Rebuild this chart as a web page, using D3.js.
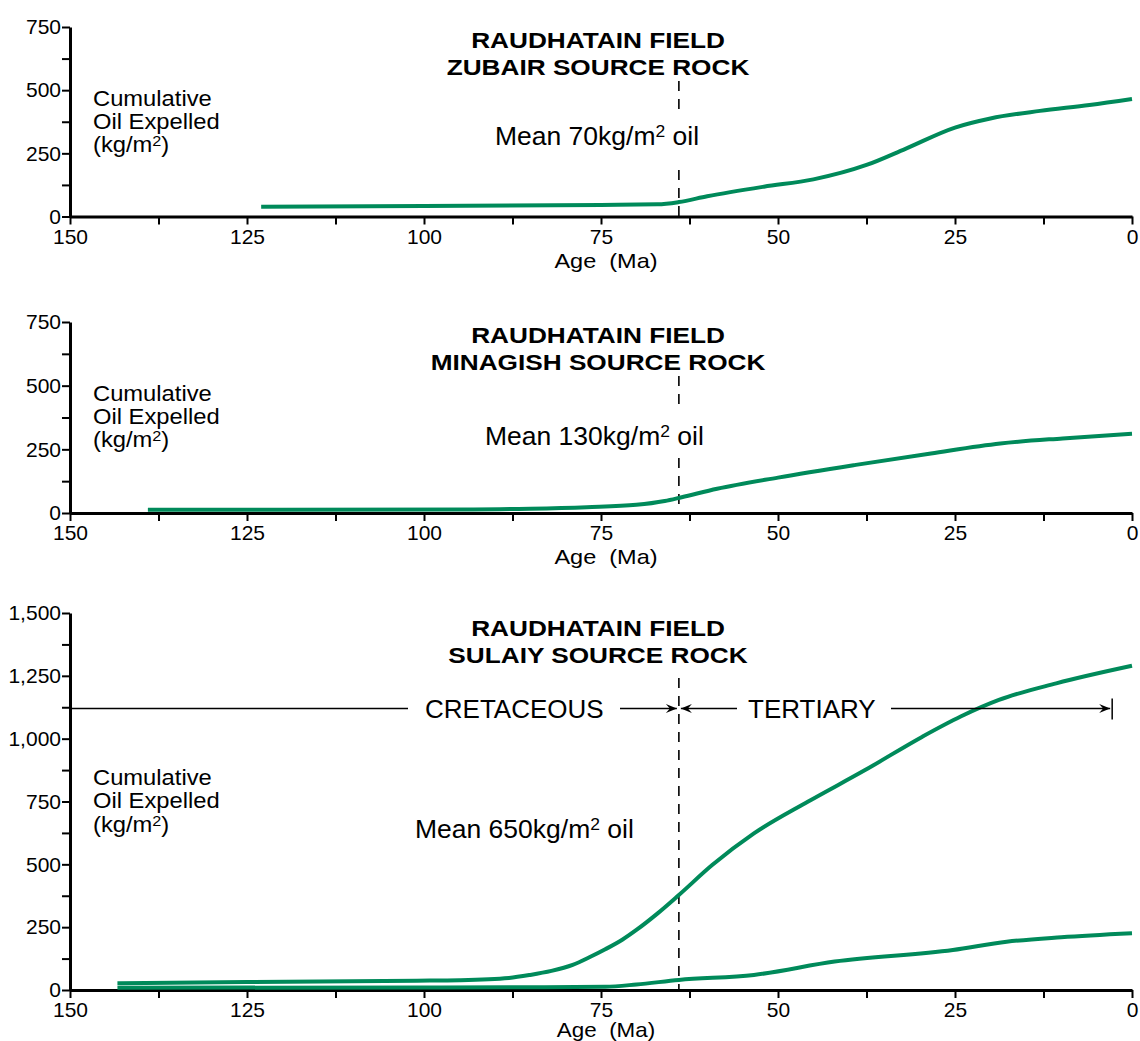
<!DOCTYPE html>
<html><head><meta charset="utf-8">
<script src="https://cdn.jsdelivr.net/npm/d3@7"></script>
<style>
body{margin:0;background:#fff}
svg{display:block}
text{font-family:"Liberation Sans",Arial,Helvetica,sans-serif;fill:#000}
</style>
</head><body>
<svg id="chart" width="1140" height="1041"></svg>
<script>
// ---------- data ----------
const ageMajorTicks = [150, 125, 100, 75, 50, 25, 0];
const ageMinorTicks = [137.5, 112.5, 87.5, 62.5, 37.5, 12.5];
const oilTicks750 = [0, 250, 500, 750];
const oilMinor750 = [125, 375, 625];
const oilTicks1500 = [0, 250, 500, 750, 1000, 1250, 1500];
const oilMinor1500 = [125, 375, 625, 875, 1125, 1375];

const zubairAge = [123, 100, 75, 67, 64, 60, 52, 45, 37.5, 32, 25, 20, 13, 6, 0];
const zubairOil = [39, 42, 46, 48, 57, 80, 118, 147, 204, 268, 352, 388, 418, 441, 465];

const minagishAge = [139, 120, 93, 85, 77, 70, 66, 63.6, 58.6, 50, 39, 28.4, 18.6, 9.8, 0];
const minagishOil = [13, 13, 14, 17, 23, 32, 47, 62, 95, 139, 189, 234, 273, 293, 311];

const sulaiyUpperAge = [143.3, 125, 101, 95, 88, 85, 82, 79, 76.5, 74.4, 72, 70, 67, 64, 59.3, 53.4, 45.8, 37.7, 29.6, 24.2, 18.8, 10.7, 0];
const sulaiyUpperOil = [27, 32, 37, 39, 48, 60, 76, 100, 132, 162, 200, 239, 305, 378, 497, 623, 749, 875, 1008, 1088, 1154, 1220, 1290];

const sulaiyLowerAge = [143.3, 100, 85, 74.4, 70, 64, 53.4, 42, 25.3, 17.7, 10, 0];
const sulaiyLowerOil = [9, 10, 11, 13, 22, 40, 60, 113, 159, 192, 210, 226];

const boundaryAge = 64;      // Cretaceous / Tertiary boundary
const tertiaryEndAge = 2.8;
const periodArrowOil = 1120;

const titles = [["RAUDHATAIN FIELD", "ZUBAIR SOURCE ROCK"],
                ["RAUDHATAIN FIELD", "MINAGISH SOURCE ROCK"],
                ["RAUDHATAIN FIELD", "SULAIY SOURCE ROCK"]];
const meanValues = ["70", "130", "650"];

// ---------- layout ----------
const green = "#008a5a";
const svg = d3.select("#chart");
const x = d3.scaleLinear().domain([150, 0]).range([70, 1132]);

const panels = [
  {y0: 216.5, yTop: 27,  max: 750,  ticks: oilTicks750,  minor: oilMinor750,
   series: [[zubairAge, zubairOil]], titleY: 47.7, meanX: 495, meanY: 145,
   labelY: 105.7, ageY: 268, ageFs: 21, pad: 5, dash: [[81, 112], [170, 216.5]]},
  {y0: 513, yTop: 322, max: 750, ticks: oilTicks750, minor: oilMinor750,
   series: [[minagishAge, minagishOil]], titleY: 342.7, meanX: 485, meanY: 445,
   labelY: 400.7, ageY: 564, ageFs: 21, pad: 4, dash: [[376, 412], [458, 513]]},
  {y0: 990, yTop: 613, max: 1500, ticks: oilTicks1500, minor: oilMinor1500,
   series: [[sulaiyUpperAge, sulaiyUpperOil], [sulaiyLowerAge, sulaiyLowerOil]],
   titleY: 636, meanX: 415, meanY: 838, labelY: 785, ageY: 1036.5, ageFs: 20, pad: 4,
   dash: [[678, 990]], arrows: true}
];

function stext(g, px, py, str, size, weight, sx, anchor) {
  return g.append("text")
    .attr("transform", `translate(${px},${py}) scale(${sx},1)`)
    .attr("text-anchor", anchor || "start")
    .style("font-size", size + "px")
    .style("font-weight", weight || "normal")
    .text(str);
}

panels.forEach((p, i) => {
  const g = svg.append("g");
  const y = d3.scaleLinear().domain([0, p.max]).range([p.y0, p.yTop]);
  const fmt = p.max > 1000 ? d3.format(",") : d3.format("d");

  // Y axis
  const yAxis = d3.axisLeft(y)
    .tickValues(p.ticks.concat(p.minor).sort((a, b) => a - b))
    .tickFormat(d => p.ticks.includes(d) ? fmt(d) : "")
    .tickSize(8).tickSizeOuter(0).tickPadding(1);
  const ya = g.append("g").attr("transform", `translate(${x(150)},0)`).call(yAxis);
  ya.select(".domain").attr("stroke-width", 3);
  ya.selectAll(".tick line").attr("stroke-width", 2);
  ya.selectAll(".tick text").style("font-size", "21px")
    .style("font-family", '"Liberation Sans",Arial,sans-serif').attr("fill", "#000");

  // X axis
  const xAxis = d3.axisBottom(x)
    .tickValues(ageMajorTicks.concat(ageMinorTicks).sort((a, b) => b - a))
    .tickFormat(d => ageMajorTicks.includes(d) ? d3.format("d")(d) : "")
    .tickSize(8).tickSizeOuter(0).tickPadding(p.pad);
  const xa = g.append("g").attr("transform", `translate(0,${p.y0})`).call(xAxis);
  xa.select(".domain").attr("stroke-width", 3);
  xa.selectAll(".tick line").attr("stroke-width", 2);
  xa.selectAll(".tick text").style("font-size", "21px")
    .style("font-family", '"Liberation Sans",Arial,sans-serif').attr("fill", "#000");

  stext(g, 606, p.ageY, "Age\u00a0\u00a0(Ma)", p.ageFs, "normal", 1.12, "middle");

  // dashed boundary line
  p.dash.forEach(seg => {
    g.append("line").attr("x1", x(boundaryAge)).attr("x2", x(boundaryAge))
      .attr("y1", seg[0]).attr("y2", seg[1])
      .attr("stroke", "#000").attr("stroke-width", 1.6).attr("stroke-dasharray", "10,8");
  });

  // titles
  stext(g, 598, p.titleY, titles[i][0], 22.5, "bold", 1.165, "middle");
  stext(g, 598, p.titleY + 27, titles[i][1], 22.5, "bold", 1.165, "middle");

  // y label
  stext(g, 93, p.labelY, "Cumulative", 22, "normal", 1.08);
  stext(g, 93, p.labelY + 23.3, "Oil Expelled", 22, "normal", 1.08);
  const kl = stext(g, 93, p.labelY + 46.6, "", 22, "normal", 1.08);
  kl.append("tspan").text("(kg/m");
  kl.append("tspan").attr("dy", -6).style("font-size", "15px").text("2");
  kl.append("tspan").attr("dy", 6).text(")");

  // mean text
  const mt = stext(g, p.meanX, p.meanY, "", 25, "normal", 1.06);
  mt.append("tspan").text("Mean " + meanValues[i] + "kg/m");
  mt.append("tspan").attr("dy", -8).style("font-size", "16.5px").text("2");
  mt.append("tspan").attr("dy", 8).text(" oil");

  // curves
  const line = d3.line().x(d => x(d[0])).y(d => y(d[1])).curve(d3.curveMonotoneX);
  p.series.forEach(s => {
    const pts = s[0].map((a, k) => [a, s[1][k]]);
    g.append("path").datum(pts).attr("d", line)
      .attr("fill", "none").attr("stroke", green).attr("stroke-width", 4)
      .attr("stroke-linejoin", "round");
  });

  // period arrows
  if (p.arrows) {
    const ay = y(periodArrowOil);
    const bx = x(boundaryAge), ex = x(tertiaryEndAge);
    const seg = (a, b) => g.append("line").attr("x1", a).attr("x2", b)
      .attr("y1", ay).attr("y2", ay).attr("stroke", "#000").attr("stroke-width", 1.5);
    const head = (tx, dir) => g.append("path")
      .attr("d", `M${tx},${ay} L${tx - dir * 11},${ay - 4.5} L${tx - dir * 7},${ay} L${tx - dir * 11},${ay + 4.5} Z`)
      .attr("fill", "#000");
    seg(x(150), 408);
    stext(g, 425, ay + 9.3, "CRETACEOUS", 26, "normal", 1.0);
    seg(620, bx - 2); head(bx - 2, 1);
    seg(bx + 2, 737); head(bx + 2, -1);
    stext(g, 748, ay + 9.3, "TERTIARY", 26, "normal", 1.0);
    seg(891, ex - 2); head(ex - 2, 1);
    g.append("line").attr("x1", ex).attr("x2", ex).attr("y1", ay - 10).attr("y2", ay + 11)
      .attr("stroke", "#000").attr("stroke-width", 1.5);
  }
});
</script>
</body></html>
